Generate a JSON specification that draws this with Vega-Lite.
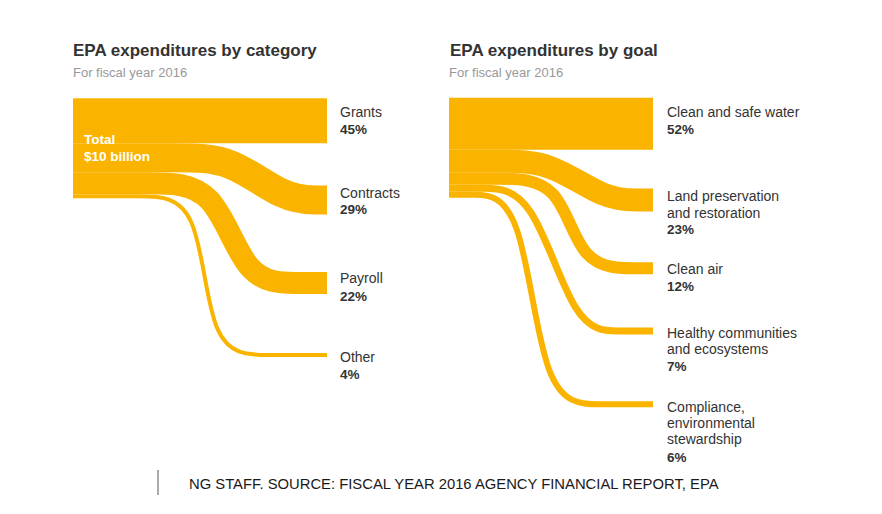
{
  "$schema": "https://vega.github.io/schema/vega-lite/v6.json",
  "width": 882,
  "height": 514,
  "autosize": {"type": "none"},
  "padding": 0,
  "background": "white",
  "config": {"view": {"stroke": null}, "axis": {"disable": true}},
  "datasets": {
    "links": [
      {"link": "Grants", "seq": 0, "x": 73, "y": 120.8, "pct": 45},
      {"link": "Grants", "seq": 1, "x": 327, "y": 120.8, "pct": 45},
      {"link": "Contracts", "seq": 0, "x": 73, "y": 157.8, "pct": 29},
      {"link": "Contracts", "seq": 1, "x": 180, "y": 157.8, "pct": 29},
      {"link": "Contracts", "seq": 2, "x": 230, "y": 157.8, "pct": 29},
      {"link": "Contracts", "seq": 3, "x": 285, "y": 200, "pct": 29},
      {"link": "Contracts", "seq": 4, "x": 320, "y": 200, "pct": 29},
      {"link": "Contracts", "seq": 5, "x": 327, "y": 200, "pct": 29},
      {"link": "Payroll", "seq": 0, "x": 73, "y": 183.3, "pct": 22},
      {"link": "Payroll", "seq": 1, "x": 150, "y": 183.3, "pct": 22},
      {"link": "Payroll", "seq": 2, "x": 215, "y": 183.3, "pct": 22},
      {"link": "Payroll", "seq": 3, "x": 245, "y": 283, "pct": 22},
      {"link": "Payroll", "seq": 4, "x": 300, "y": 283, "pct": 22},
      {"link": "Payroll", "seq": 5, "x": 327, "y": 283, "pct": 22},
      {"link": "Other", "seq": 0, "x": 73, "y": 196.3, "pct": 4},
      {"link": "Other", "seq": 1, "x": 140, "y": 196.3, "pct": 4},
      {"link": "Other", "seq": 2, "x": 200, "y": 196.3, "pct": 4},
      {"link": "Other", "seq": 3, "x": 209, "y": 355, "pct": 4},
      {"link": "Other", "seq": 4, "x": 268, "y": 355, "pct": 4},
      {"link": "Other", "seq": 5, "x": 327, "y": 355, "pct": 4},
      {"link": "Water", "seq": 0, "x": 449, "y": 123.7, "pct": 52},
      {"link": "Water", "seq": 1, "x": 653, "y": 123.7, "pct": 52},
      {"link": "Land", "seq": 0, "x": 449, "y": 161.2, "pct": 23},
      {"link": "Land", "seq": 1, "x": 500, "y": 161.2, "pct": 23},
      {"link": "Land", "seq": 2, "x": 550, "y": 161.2, "pct": 23},
      {"link": "Land", "seq": 3, "x": 605, "y": 200, "pct": 23},
      {"link": "Land", "seq": 4, "x": 640, "y": 200, "pct": 23},
      {"link": "Land", "seq": 5, "x": 653, "y": 200, "pct": 23},
      {"link": "Air", "seq": 0, "x": 449, "y": 178.7, "pct": 12},
      {"link": "Air", "seq": 1, "x": 495, "y": 178.7, "pct": 12},
      {"link": "Air", "seq": 2, "x": 560, "y": 178.7, "pct": 12},
      {"link": "Air", "seq": 3, "x": 580, "y": 268.3, "pct": 12},
      {"link": "Air", "seq": 4, "x": 640, "y": 268.3, "pct": 12},
      {"link": "Air", "seq": 5, "x": 653, "y": 268.3, "pct": 12},
      {"link": "Healthy", "seq": 0, "x": 449, "y": 188.2, "pct": 7},
      {"link": "Healthy", "seq": 1, "x": 480, "y": 188.2, "pct": 7},
      {"link": "Healthy", "seq": 2, "x": 532, "y": 188.2, "pct": 7},
      {"link": "Healthy", "seq": 3, "x": 575, "y": 331, "pct": 7},
      {"link": "Healthy", "seq": 4, "x": 620, "y": 331, "pct": 7},
      {"link": "Healthy", "seq": 5, "x": 653, "y": 331, "pct": 7},
      {"link": "Compliance", "seq": 0, "x": 449, "y": 194.7, "pct": 6},
      {"link": "Compliance", "seq": 1, "x": 470, "y": 194.7, "pct": 6},
      {"link": "Compliance", "seq": 2, "x": 522, "y": 194.7, "pct": 6},
      {"link": "Compliance", "seq": 3, "x": 543, "y": 404.3, "pct": 6},
      {"link": "Compliance", "seq": 4, "x": 600, "y": 404.3, "pct": 6},
      {"link": "Compliance", "seq": 5, "x": 653, "y": 404.3, "pct": 6}
    ],
    "texts": [
      {"kind": "title", "x": 73, "y": 55.7, "text": "EPA expenditures by category"},
      {"kind": "title", "x": 450, "y": 55.7, "text": "EPA expenditures by goal"},
      {"kind": "sub", "x": 73, "y": 76.7, "text": "For fiscal year 2016"},
      {"kind": "sub", "x": 449, "y": 76.7, "text": "For fiscal year 2016"},
      {"kind": "total", "x": 84, "y": 144, "text": "Total"},
      {"kind": "total", "x": 84, "y": 160.7, "text": "$10 billion"},
      {"kind": "name", "x": 340, "y": 117.3, "text": "Grants"},
      {"kind": "pct", "x": 340, "y": 134.3, "text": "45%"},
      {"kind": "name", "x": 340, "y": 197.5, "text": "Contracts"},
      {"kind": "pct", "x": 340, "y": 214.3, "text": "29%"},
      {"kind": "name", "x": 340, "y": 283.3, "text": "Payroll"},
      {"kind": "pct", "x": 340, "y": 300.7, "text": "22%"},
      {"kind": "name", "x": 340, "y": 362.3, "text": "Other"},
      {"kind": "pct", "x": 340, "y": 379.3, "text": "4%"},
      {"kind": "name", "x": 667, "y": 117.3, "text": "Clean and safe water"},
      {"kind": "pct", "x": 667, "y": 134.3, "text": "52%"},
      {"kind": "name", "x": 667, "y": 200.7, "text": "Land preservation"},
      {"kind": "name", "x": 667, "y": 217.5, "text": "and restoration"},
      {"kind": "pct", "x": 667, "y": 234.3, "text": "23%"},
      {"kind": "name", "x": 667, "y": 274.2, "text": "Clean air"},
      {"kind": "pct", "x": 667, "y": 291.2, "text": "12%"},
      {"kind": "name", "x": 667, "y": 337.5, "text": "Healthy communities"},
      {"kind": "name", "x": 667, "y": 354, "text": "and ecosystems"},
      {"kind": "pct", "x": 667, "y": 371, "text": "7%"},
      {"kind": "name", "x": 667, "y": 411.7, "text": "Compliance,"},
      {"kind": "name", "x": 667, "y": 427.8, "text": "environmental"},
      {"kind": "name", "x": 667, "y": 444.3, "text": "stewardship"},
      {"kind": "pct", "x": 667, "y": 462.3, "text": "6%"},
      {"kind": "footer", "x": 189, "y": 488.5, "text": "NG STAFF. SOURCE: FISCAL YEAR 2016 AGENCY FINANCIAL REPORT, EPA"}
    ],
    "rules": [
      {"x": 158, "y": 470, "y2": 495}
    ]
  },
  "encoding": {
    "x": {"field": "x", "type": "quantitative", "scale": {"domain": [0, 882], "nice": false, "zero": false}, "axis": null},
    "y": {"field": "y", "type": "quantitative", "scale": {"domain": [0, 514], "nice": false, "zero": false, "reverse": true}, "axis": null}
  },
  "layer": [
    {
      "data": {"name": "links"},
      "mark": {"type": "line", "interpolate": "basis", "color": "#FAB400", "strokeCap": "butt", "strokeJoin": "round"},
      "encoding": {
        "detail": {"field": "link", "type": "nominal"},
        "order": {"field": "seq", "type": "quantitative"},
        "size": {"field": "pct", "type": "quantitative", "scale": null, "legend": null}
      }
    },
    {
      "data": {"name": "rules"},
      "mark": {"type": "rule", "color": "#555555", "strokeWidth": 1},
      "encoding": {
        "y2": {"field": "y2"}
      }
    },
    {
      "data": {"name": "texts"},
      "transform": [{"filter": "datum.kind === 'title'"}],
      "mark": {"type": "text", "align": "left", "baseline": "alphabetic", "font": "Liberation Sans", "fontSize": 17, "fontWeight": "bold", "color": "#333333"},
      "encoding": {"text": {"field": "text"}}
    },
    {
      "data": {"name": "texts"},
      "transform": [{"filter": "datum.kind === 'sub'"}],
      "mark": {"type": "text", "align": "left", "baseline": "alphabetic", "font": "Liberation Sans", "fontSize": 13, "color": "#999999"},
      "encoding": {"text": {"field": "text"}}
    },
    {
      "data": {"name": "texts"},
      "transform": [{"filter": "datum.kind === 'total'"}],
      "mark": {"type": "text", "align": "left", "baseline": "alphabetic", "font": "Liberation Sans", "fontSize": 13.5, "fontWeight": "bold", "color": "#ffffff"},
      "encoding": {"text": {"field": "text"}}
    },
    {
      "data": {"name": "texts"},
      "transform": [{"filter": "datum.kind === 'name'"}],
      "mark": {"type": "text", "align": "left", "baseline": "alphabetic", "font": "Liberation Sans", "fontSize": 14, "color": "#333333"},
      "encoding": {"text": {"field": "text"}}
    },
    {
      "data": {"name": "texts"},
      "transform": [{"filter": "datum.kind === 'pct'"}],
      "mark": {"type": "text", "align": "left", "baseline": "alphabetic", "font": "Liberation Sans", "fontSize": 13.5, "fontWeight": "bold", "color": "#333333"},
      "encoding": {"text": {"field": "text"}}
    },
    {
      "data": {"name": "texts"},
      "transform": [{"filter": "datum.kind === 'footer'"}],
      "mark": {"type": "text", "align": "left", "baseline": "alphabetic", "font": "Liberation Sans", "fontSize": 14.8, "color": "#1a1a1a"},
      "encoding": {"text": {"field": "text"}}
    }
  ]
}
